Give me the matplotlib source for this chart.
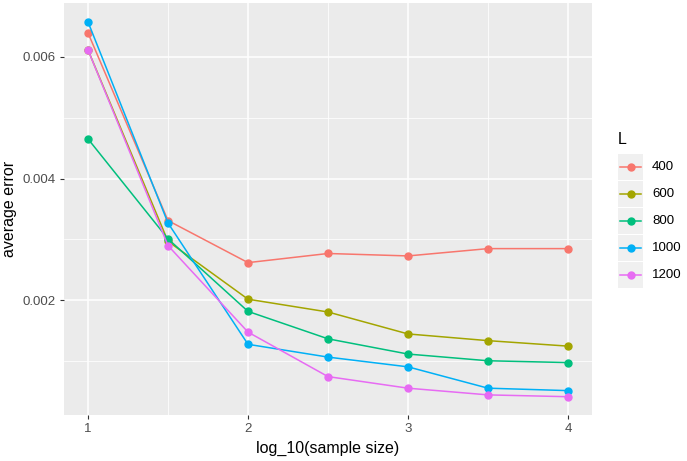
import matplotlib.pyplot as plt
from matplotlib.lines import Line2D
from matplotlib.patches import Rectangle

plt.rcParams['font.family'] = ['Liberation Sans', 'DejaVu Sans']

# Data
log_n = [1, 1.5, 2, 2.5, 3, 3.5, 4]
L_values = ['400', '600', '800', '1000', '1200']
err_400 = [0.00639, 0.00331, 0.00262, 0.00277, 0.00273, 0.00285, 0.00285]
err_600 = [0.00611, 0.00297, 0.00202, 0.00181, 0.00145, 0.00134, 0.00125]
err_800 = [0.00465, 0.00301, 0.00182, 0.00137, 0.00112, 0.00101, 0.00098]
err_1000 = [0.00657, 0.00327, 0.00128, 0.00107, 0.00091, 0.00056, 0.00052]
err_1200 = [0.00611, 0.00290, 0.00148, 0.00075, 0.00056, 0.00045, 0.00042]
series = [err_400, err_600, err_800, err_1000, err_1200]
colors = ['#F8766D', '#A3A500', '#00BF7D', '#00B0F6', '#E76BF3']

W, H = 687, 461
fig = plt.figure(figsize=(W / 100, H / 100), dpi=100)
ax = fig.add_axes([64 / W, 1 - 415 / H, (592 - 64) / W, (415 - 3) / H])
ax.set_facecolor('#EBEBEB')

for vals, c in zip(series, colors):
    ax.plot(log_n, vals, color=c, linewidth=1.1, marker='o', markersize=5, zorder=3)

ax.set_xlim(0.85, 4.15)
ax.set_ylim(0.00012, 0.00688)
ax.set_xticks([1, 2, 3, 4])
ax.set_xticklabels(['1', '2', '3', '4'])
ax.set_yticks([0.002, 0.004, 0.006])
ax.set_yticklabels(['0.002', '0.004', '0.006'])
ax.set_xticks([1.5, 2.5, 3.5], minor=True)
ax.set_yticks([0.001, 0.003, 0.005], minor=True)
ax.grid(which='major', color='white', linewidth=1.1, zorder=0)
ax.grid(which='minor', color='white', linewidth=0.55, zorder=0)
ax.set_axisbelow(True)
for s in ax.spines.values():
    s.set_visible(False)
ax.tick_params(which='major', length=3, color='#333333', labelsize=9.5, labelcolor='#4D4D4D', pad=3)
ax.tick_params(which='minor', length=0)
ax.set_xlabel('log_10(sample size)', fontsize=11.5, labelpad=4)
ax.set_ylabel('average error', fontsize=11.5, labelpad=4)

# Legend drawn by hand in ggplot style
fig.text(618 / W, 1 - 139 / H, 'L', fontsize=11.5, va='center', ha='left')
key_y = [167, 194, 221, 248, 275]
for ky, lab, c in zip(key_y, L_values, colors):
    fig.patches.append(Rectangle((618 / W, 1 - (ky + 13) / H), 25 / W, 26 / H,
                                 transform=fig.transFigure, facecolor='#F0F0F0',
                                 edgecolor='none'))
    fig.add_artist(Line2D([620 / W, 641 / W], [1 - ky / H, 1 - ky / H], color=c,
                          linewidth=1.1, transform=fig.transFigure))
    fig.add_artist(Line2D([630.5 / W], [1 - ky / H], color=c, marker='o', markersize=5,
                          transform=fig.transFigure))
    fig.text(652 / W, 1 - ky / H, lab, fontsize=9.5, va='center', ha='left')

fig.savefig('out.png', dpi=100)
